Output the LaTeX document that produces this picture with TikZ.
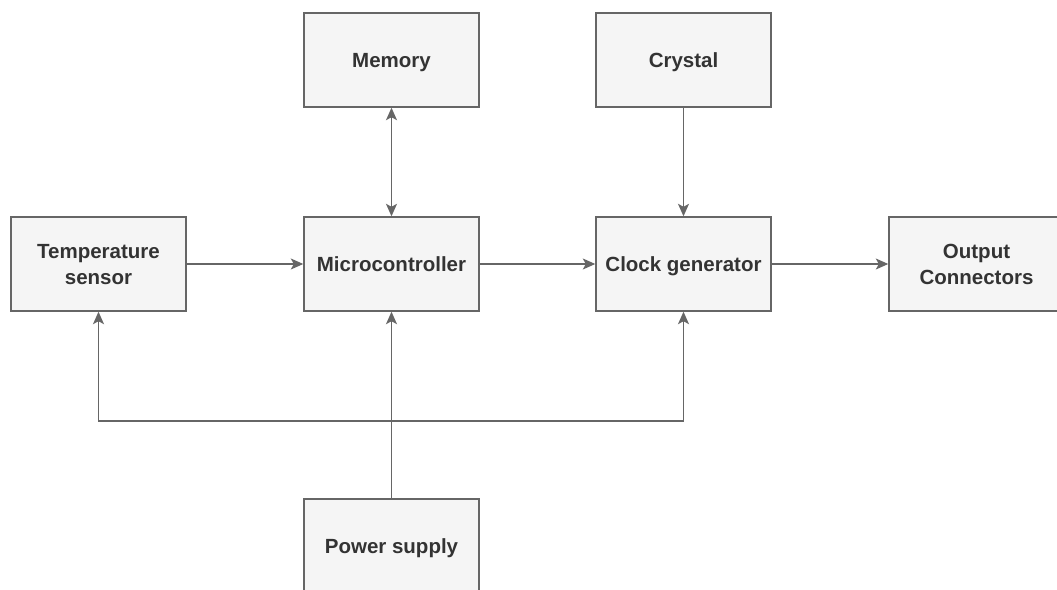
\documentclass[tikz,border=0pt]{standalone}
\usepackage{fontspec}
\setmainfont{Liberation Sans}
\usetikzlibrary{arrows.meta}
\definecolor{boxfill}{HTML}{F5F5F5}
\definecolor{boxline}{HTML}{666666}
\definecolor{labeltext}{HTML}{333333}
\tikzset{hd/.tip={Stealth[length=12.5pt,width=11pt,inset=3pt]}}
\begin{document}
\begin{tikzpicture}[x=1pt,y=-1pt,
  block/.style={draw=boxline, fill=boxfill, line width=1.4pt,
    minimum width=175pt, minimum height=94pt, inner sep=0pt,
    align=center, text=labeltext, text depth=0pt,
    font=\fontsize{20.5}{26}\selectfont\bfseries},
  conn/.style={draw=boxline, line width=1.3pt, -hd},
  wire/.style={draw=boxline, line width=1.3pt}]
  \useasboundingbox (0,0) rectangle (1057,589);
  \clip (0,0) rectangle (1057,589);

  % blocks
  \node[block] (memory)  at (391.5,60)  {Memory};
  \node[block] (crystal) at (683.5,60)  {Crystal};
  \node[block] (temp)    at (98.5,264)  {Temperature\\sensor};
  \node[block] (micro)   at (391.5,264) {Microcontroller};
  \node[block] (clock)   at (683.5,264) {Clock generator};
  \node[block] (output)  at (976.5,264) {Output\\Connectors};
  \node[block] (power)   at (391.5,546) {Power supply};

  % signal path
  \draw[wire, hd-hd] (memory.south) -- (micro.north);
  \draw[conn] (crystal.south) -- (clock.north);
  \draw[conn] (temp.east) -- (micro.west);
  \draw[conn] (micro.east) -- (clock.west);
  \draw[conn] (clock.east) -- (output.west);

  % power distribution
  \coordinate (busL) at (98.5,421);
  \coordinate (busR) at (683.5,421);
  \draw[conn] (power.north) -- (micro.south);
  \draw[wire, hd-hd] (temp.south) -- (busL) -- (busR) -- (clock.south);
\end{tikzpicture}
\end{document}
